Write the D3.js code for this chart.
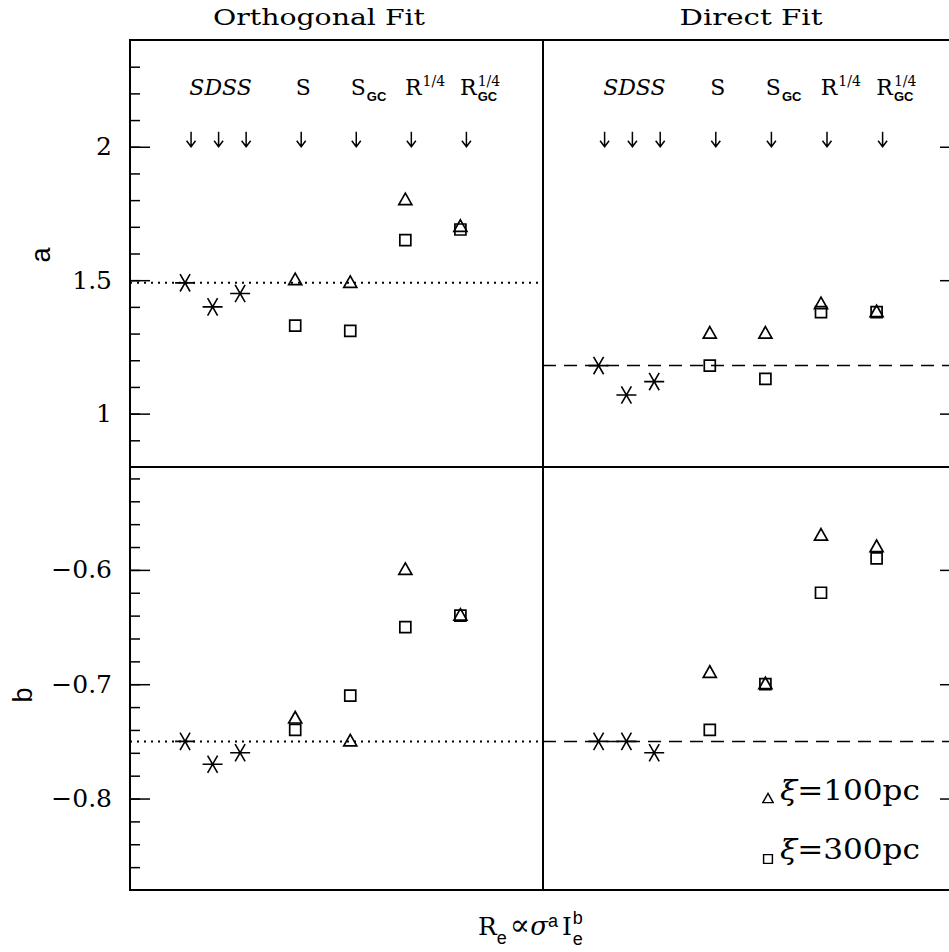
<!DOCTYPE html>
<html>
<head>
<meta charset="utf-8">
<script src="https://cdn.jsdelivr.net/npm/d3@7"></script>
<style>
body { margin: 0; background: #fff; }
text { fill: #000; }
</style>
</head>
<body>
<svg id="chart" width="949" height="952"></svg>
<script>
// x position (in slot units) of each fit
const sdssPos = [1, 1.5, 2];
const profilePos = [3, 4, 5, 6];

// column labels above the arrows
const labelPos = [1.5, 3, 4, 5, 6];
const labelBase = ["SDSS", "S", "S", "R", "R"];
const labelSup = ["", "", "", "1/4", "1/4"];
const labelSub = ["", "", "GC", "", "GC"];
const arrowPos = [1, 1.5, 2, 3, 4, 5, 6];

// a coefficient
const orthoA_sdss = [1.49, 1.40, 1.45];
const orthoA_xi100 = [1.50, 1.49, 1.80, 1.70];
const orthoA_xi300 = [1.33, 1.31, 1.65, 1.69];
const orthoA_ref = 1.49;
const directA_sdss = [1.18, 1.07, 1.12];
const directA_xi100 = [1.30, 1.30, 1.41, 1.38];
const directA_xi300 = [1.18, 1.13, 1.38, 1.38];
const directA_ref = 1.18;

// b coefficient
const orthoB_sdss = [-0.75, -0.77, -0.76];
const orthoB_xi100 = [-0.73, -0.75, -0.60, -0.64];
const orthoB_xi300 = [-0.74, -0.71, -0.65, -0.64];
const orthoB_ref = -0.75;
const directB_sdss = [-0.75, -0.75, -0.76];
const directB_xi100 = [-0.69, -0.70, -0.57, -0.58];
const directB_xi300 = [-0.74, -0.70, -0.62, -0.59];
const directB_ref = -0.75;

const aMajor = [1, 1.5, 2];
const aMinor = d3.range(9, 24).map(d => d / 10);
const bMajor = [-0.8, -0.7, -0.6];
const bMinor = d3.range(-86, -51, 2).map(d => d / 100);

const svg = d3.select("#chart");
const frameL = 130, frameM = 543, frameR = 960, frameT = 40, frameS = 467, frameB = 890;
const glyphShift = 6; // arrows/labels sit a bit right of the points

const xOrtho = d3.scaleLinear().domain([0, 7.5]).range([frameL, frameM]);
const xDirect = d3.scaleLinear().domain([0, 7.5]).range([frameM, frameR]);
const yA = d3.scaleLinear().domain([0.8, 2.4]).range([frameS, frameT]);
const yB = d3.scaleLinear().domain([-0.88, -0.51]).range([frameB, frameS]);

const serif = "'DejaVu Serif', serif";
const sans = "'Liberation Sans', Arial, sans-serif";

const starPath = "M-10,0H10M-5,-8.66L5,8.66M-5,8.66L5,-8.66";
const triPath = "M0,-7L6.5,4.5H-6.5Z";
const sqPath = "M-5.5,-5.5H5.5V5.5H-5.5Z";

// axes: ticks pointing inward, labels only on the left
function yAxes(scale, major, minor) {
    const fmt = d3.format("");
    svg.append("g")
        .attr("transform", `translate(${frameL},0)`)
        .call(d3.axisLeft(scale).tickValues(minor).tickSize(-10).tickFormat(""))
        .call(g => g.select(".domain").remove());
    svg.append("g")
        .attr("transform", `translate(${frameL},0)`)
        .call(d3.axisLeft(scale).tickValues(major).tickSize(-20).tickPadding(18).tickFormat(fmt))
        .call(g => g.select(".domain").remove())
        .call(g => g.selectAll("text").attr("font-family", serif).attr("font-size", 25));
    svg.append("g")
        .attr("transform", `translate(${frameR},0)`)
        .call(d3.axisRight(scale).tickValues(minor).tickSize(-10).tickFormat(""))
        .call(g => g.select(".domain").remove());
    svg.append("g")
        .attr("transform", `translate(${frameR},0)`)
        .call(d3.axisRight(scale).tickValues(major).tickSize(-20).tickFormat(""))
        .call(g => g.select(".domain").remove());
}
yAxes(yA, aMajor, aMinor);
yAxes(yB, bMajor, bMinor);
svg.selectAll(".tick line").attr("stroke", "#000").attr("stroke-width", 1.5);

const panels = [
    {x: xOrtho, y: yA, sdss: orthoA_sdss, tri: orthoA_xi100, sq: orthoA_xi300, ref: orthoA_ref, dash: "2,5", w: 2},
    {x: xDirect, y: yA, sdss: directA_sdss, tri: directA_xi100, sq: directA_xi300, ref: directA_ref, dash: "13,8", w: 1.5},
    {x: xOrtho, y: yB, sdss: orthoB_sdss, tri: orthoB_xi100, sq: orthoB_xi300, ref: orthoB_ref, dash: "2,5", w: 2},
    {x: xDirect, y: yB, sdss: directB_sdss, tri: directB_xi100, sq: directB_xi300, ref: directB_ref, dash: "13,8", w: 1.5}
];

panels.forEach(p => {
    const g = svg.append("g");
    g.append("line")
        .attr("x1", p.x.range()[0]).attr("x2", p.x.range()[1])
        .attr("y1", p.y(p.ref)).attr("y2", p.y(p.ref))
        .attr("stroke", "#000").attr("stroke-width", p.w)
        .attr("stroke-dasharray", p.dash);

    g.selectAll(".star").data(p.sdss).enter().append("path")
        .attr("class", "star")
        .attr("transform", (d, i) => `translate(${p.x(sdssPos[i])},${p.y(d)})`)
        .attr("d", starPath)
        .attr("fill", "none").attr("stroke", "#000").attr("stroke-width", 1.6);

    g.selectAll(".sq").data(p.sq).enter().append("path")
        .attr("class", "sq")
        .attr("transform", (d, i) => `translate(${p.x(profilePos[i])},${p.y(d)})`)
        .attr("d", sqPath)
        .attr("fill", "none").attr("stroke", "#000").attr("stroke-width", 1.7);

    g.selectAll(".tri").data(p.tri).enter().append("path")
        .attr("class", "tri")
        .attr("transform", (d, i) => `translate(${p.x(profilePos[i])},${p.y(d)})`)
        .attr("d", triPath)
        .attr("fill", "none").attr("stroke", "#000").attr("stroke-width", 1.7);
});

// labels and arrows at the top of each a-panel
[xOrtho, xDirect].forEach(x => {
    const g = svg.append("g");
    g.selectAll(".arrow").data(arrowPos).enter().append("path")
        .attr("class", "arrow")
        .attr("d", d => {
            const ax = x(d) + glyphShift, tip = yA(2);
            return `M${ax},${tip - 15}V${tip}M${ax - 4.5},${tip - 6}L${ax},${tip}L${ax + 4.5},${tip - 6}`;
        })
        .attr("fill", "none").attr("stroke", "#000").attr("stroke-width", 1.5);

    labelPos.forEach((d, i) => {
        const cx = x(d) + glyphShift + 2;
        const base = g.append("text")
            .attr("x", cx).attr("y", 95)
            .attr("text-anchor", "middle")
            .attr("font-family", serif).attr("font-size", 22)
            .attr("font-style", i === 0 ? "italic" : "normal")
            .text(labelBase[i]);
        const xEnd = cx + base.node().getComputedTextLength() / 2 + 1;
        if (labelSup[i]) {
            g.append("text").attr("x", xEnd).attr("y", 86)
                .attr("font-family", serif).attr("font-size", 14)
                .text(labelSup[i]);
        }
        if (labelSub[i]) {
            g.append("text").attr("x", xEnd).attr("y", 101)
                .attr("font-family", sans).attr("font-weight", "bold").attr("font-size", 13)
                .text(labelSub[i]);
        }
    });
});

// frame
svg.append("rect")
    .attr("x", frameL).attr("y", frameT)
    .attr("width", frameR - frameL).attr("height", frameB - frameT)
    .attr("fill", "none").attr("stroke", "#000").attr("stroke-width", 2);
svg.append("line").attr("x1", frameM).attr("x2", frameM).attr("y1", frameT).attr("y2", frameB)
    .attr("stroke", "#000").attr("stroke-width", 2);
svg.append("line").attr("x1", frameL).attr("x2", frameR).attr("y1", frameS).attr("y2", frameS)
    .attr("stroke", "#000").attr("stroke-width", 2);

// titles
svg.append("text").attr("x", 319).attr("y", 25).attr("text-anchor", "middle")
    .attr("font-family", serif).attr("font-size", 22)
    .attr("textLength", 212).attr("lengthAdjust", "spacingAndGlyphs")
    .text("Orthogonal Fit");
svg.append("text").attr("x", 751).attr("y", 25).attr("text-anchor", "middle")
    .attr("font-family", serif).attr("font-size", 22)
    .attr("textLength", 143).attr("lengthAdjust", "spacingAndGlyphs")
    .text("Direct Fit");

// y titles
svg.append("text").attr("transform", "translate(50,255) rotate(-90)")
    .attr("text-anchor", "middle").attr("font-family", sans).attr("font-size", 27)
    .text("a");
svg.append("text").attr("transform", "translate(32,695) rotate(-90)")
    .attr("text-anchor", "middle").attr("font-family", sans).attr("font-size", 27)
    .text("b");

// x title: R_e ∝ σ^a I_e^b
const xt = svg.append("text").attr("x", 478).attr("y", 935)
    .attr("font-family", serif).attr("font-size", 25);
xt.append("tspan").text("R");
xt.append("tspan").attr("dy", 9).attr("font-family", sans).attr("font-size", 18).text("e");
xt.append("tspan").attr("dy", -9).attr("dx", 3).attr("font-size", 30).text("∝");
xt.append("tspan").attr("font-style", "italic").attr("font-size", 26).text("σ");
xt.append("tspan").attr("dy", -8).attr("font-family", sans).attr("font-size", 18).text("a");
xt.append("tspan").attr("dy", 8).attr("dx", 4).text("I");
xt.append("tspan").attr("dy", -11).attr("dx", 1).attr("font-family", sans).attr("font-size", 18).text("b");
xt.append("tspan").attr("dy", 21).attr("dx", -10).attr("font-family", sans).attr("font-size", 18).text("e");

// legend
const legend = svg.append("g");
legend.append("path").attr("transform", "translate(768,799) scale(0.8)").attr("d", triPath)
    .attr("fill", "none").attr("stroke", "#000").attr("stroke-width", 1.8);
legend.append("path").attr("transform", "translate(768,859) scale(0.8)").attr("d", sqPath)
    .attr("fill", "none").attr("stroke", "#000").attr("stroke-width", 1.8);
[["100pc", 800], ["300pc", 859]].forEach(([t, y]) => {
    const lt = legend.append("text").attr("x", 780).attr("y", y)
        .attr("font-family", serif).attr("font-size", 27)
        .attr("textLength", 140).attr("lengthAdjust", "spacingAndGlyphs");
    lt.append("tspan").attr("font-style", "italic").text("ξ");
    lt.append("tspan").text("=" + t);
});
</script>
</body>
</html>
